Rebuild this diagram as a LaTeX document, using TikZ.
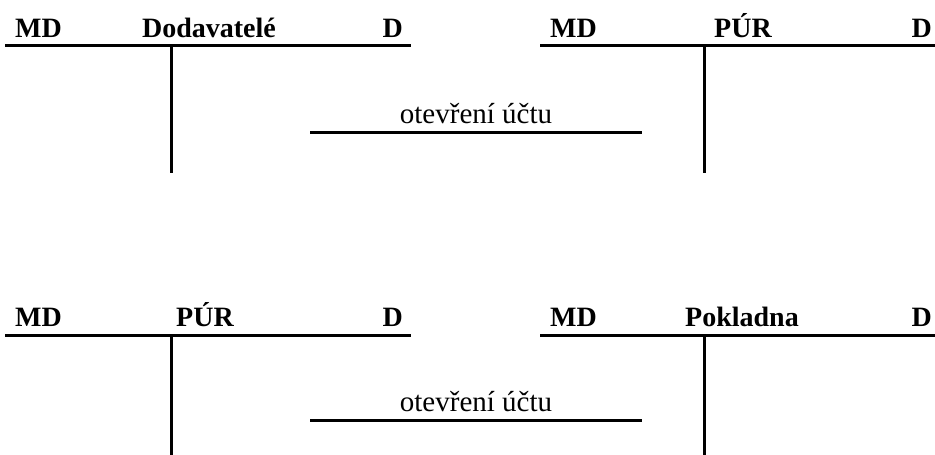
\documentclass[tikz,border=0pt]{standalone}
\usepackage{fontspec}
\setmainfont{Liberation Serif}
\begin{document}
\begin{tikzpicture}[x=1pt,y=-1pt,
  rule/.style={line width=3pt},
  head/.style={font=\bfseries\fontsize{28}{31}\selectfont, inner sep=0pt},
  note/.style={font=\fontsize{29}{32}\selectfont, inner sep=0pt}]
\useasboundingbox (0,0) rectangle (935,455);
% ---- top left account
\coordinate (a1l) at (5,45); \coordinate (a1r) at (411,45);
\coordinate (a1t) at (171,45); \coordinate (a1b) at (171,173);
\draw[rule] (a1l) -- (a1r);
\draw[rule] (a1t) -- (a1b);
\node[head, anchor=base west] (a1md) at (15,37) {MD};
\node[head, anchor=base] (a1n) at (209,37) {Dodavatelé};
\node[head, anchor=base east] (a1d) at (403,37) {D};
% ---- top right account
\coordinate (a2l) at (540,45); \coordinate (a2r) at (935,45);
\coordinate (a2t) at (704,45); \coordinate (a2b) at (704,173);
\draw[rule] (a2l) -- (a2r);
\draw[rule] (a2t) -- (a2b);
\node[head, anchor=base west] (a2md) at (550,37) {MD};
\node[head, anchor=base] (a2n) at (743,37) {PÚR};
\node[head, anchor=base east] (a2d) at (932,37) {D};
% ---- top middle
\coordinate (m1l) at (310,132); \coordinate (m1r) at (642,132);
\draw[rule] (m1l) -- (m1r);
\node[note, anchor=base] (m1t) at (476,123) {otevření účtu};
% ---- bottom left account
\coordinate (b1l) at (5,335); \coordinate (b1r) at (411,335);
\coordinate (b1t) at (171,335); \coordinate (b1b) at (171,455);
\draw[rule] (b1l) -- (b1r);
\draw[rule] (b1t) -- (b1b);
\node[head, anchor=base west] (b1md) at (15,326) {MD};
\node[head, anchor=base] (b1n) at (205,326) {PÚR};
\node[head, anchor=base east] (b1d) at (403,326) {D};
% ---- bottom right account
\coordinate (b2l) at (540,335); \coordinate (b2r) at (935,335);
\coordinate (b2t) at (704,335); \coordinate (b2b) at (704,455);
\draw[rule] (b2l) -- (b2r);
\draw[rule] (b2t) -- (b2b);
\node[head, anchor=base west] (b2md) at (550,326) {MD};
\node[head, anchor=base] (b2n) at (742,326) {Pokladna};
\node[head, anchor=base east] (b2d) at (932,326) {D};
% ---- bottom middle
\coordinate (m2l) at (310,420); \coordinate (m2r) at (642,420);
\draw[rule] (m2l) -- (m2r);
\node[note, anchor=base] (m2t) at (476,411) {otevření účtu};
\end{tikzpicture}
\end{document}
